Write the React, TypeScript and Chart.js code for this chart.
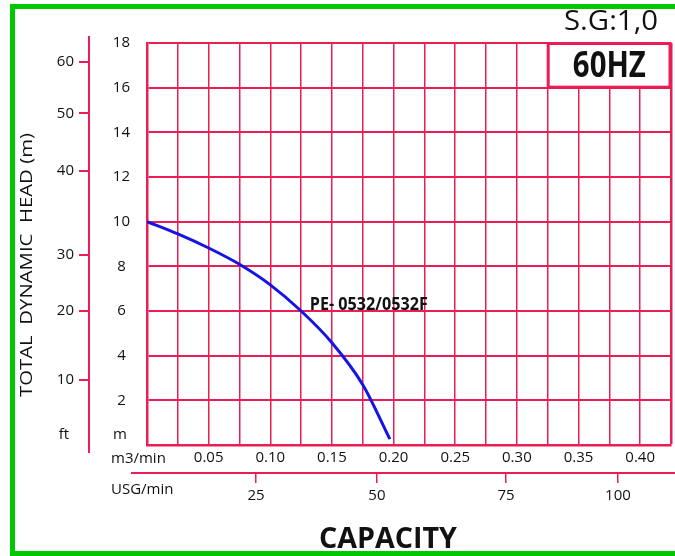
import React, { useEffect, useRef } from 'react';
import { Chart, registerables } from 'chart.js';

Chart.register(...registerables);

// ---- data ----
const flowM3 = [0, 0.025, 0.05, 0.075, 0.1, 0.125, 0.15, 0.175, 0.197];
const headM = [10, 9.45, 8.82, 8.09, 7.17, 6.0, 4.58, 2.7, 0.26];
const seriesName = 'PE- 0532/0532F';

const m3TickLabels = ['0.05', '0.10', '0.15', '0.20', '0.25', '0.30', '0.35', '0.40'];
const usgTickLabels = ['25', '50', '75', '100'];
const usgTickAtM3 = [0.0884, 0.1865, 0.2912, 0.382];
const ftTickLabels = ['10', '20', '30', '40', '50', '60'];
const ftTickAtM = [2.91, 6.01, 8.51, 12.28, 14.85, 17.16];

const headMin = 0;
const headMax = 18;
const headStep = 2;
const flowMin = 0;
const flowMax = 0.425;
const flowStep = 0.025;

const hzBoxFlow = [0.325, 0.425];
const hzBoxHead = [16, 18];
const seriesLabelAt = { flow: 0.132, head: 6.27 };

const RED = '#ea1d55';
const GREEN = '#00c800';
const TEXT = '#111111';
const FONT = '"Open Sans", "Noto Sans", sans-serif';

function fitText(
  ctx: CanvasRenderingContext2D,
  text: string,
  x: number,
  y: number,
  font: string,
  targetW: number,
  align: 'left' | 'center',
  rotate = 0
) {
  ctx.save();
  ctx.font = font;
  const w = ctx.measureText(text).width;
  const s = targetW / w;
  ctx.translate(x, y);
  if (rotate) ctx.rotate(rotate);
  ctx.scale(s, 1);
  ctx.textAlign = align;
  ctx.textBaseline = 'middle';
  ctx.fillStyle = TEXT;
  ctx.fillText(text, 0, 0);
  ctx.restore();
}

const overlay = {
  id: 'overlay',
  afterDraw(chart: any) {
    const { ctx, chartArea: ca, scales } = chart;
    const xs = scales.x;
    const ys = scales.y;
    const yft = scales.yft;
    const xu = scales.xusg;
    ctx.save();

    // green frame (left, top, bottom)
    ctx.strokeStyle = GREEN;
    ctx.lineWidth = 5;
    ctx.beginPath();
    ctx.moveTo(chart.width, 6.5);
    ctx.lineTo(12.5, 6.5);
    ctx.lineTo(12.5, 553.5);
    ctx.lineTo(chart.width, 553.5);
    ctx.stroke();

    // ft axis line
    ctx.strokeStyle = RED;
    ctx.lineWidth = 2;
    ctx.beginPath();
    ctx.moveTo(yft.right - 1, ca.top - 7);
    ctx.lineTo(yft.right - 1, ca.bottom + 8);
    ctx.stroke();

    // USG axis line
    ctx.beginPath();
    ctx.moveTo(ca.left - 16, xu.top + 1);
    ctx.lineTo(chart.width, xu.top + 1);
    ctx.stroke();

    // 60HZ box
    const bx1 = xs.getPixelForValue(hzBoxFlow[0]);
    const bx2 = xs.getPixelForValue(hzBoxFlow[1]);
    const by1 = ys.getPixelForValue(hzBoxHead[1]);
    const by2 = ys.getPixelForValue(hzBoxHead[0]);
    ctx.fillStyle = '#ffffff';
    ctx.fillRect(bx1, by1, bx2 - bx1, by2 - by1);
    ctx.strokeStyle = RED;
    ctx.lineWidth = 3;
    ctx.strokeRect(bx1 + 0.5, by1 + 0.5, bx2 - bx1 - 1.5, by2 - by1 - 1);
    fitText(ctx, '60HZ', (bx1 + bx2) / 2, (by1 + by2) / 2 + 1, `bold 36px ${FONT}`, 73, 'center');

    // S.G
    fitText(ctx, 'S.G:1,0', 611, 22, `27px ${FONT}`, 94, 'center');

    // series label
    fitText(
      ctx,
      seriesName,
      xs.getPixelForValue(seriesLabelAt.flow),
      ys.getPixelForValue(seriesLabelAt.head),
      `bold 18px ${FONT}`,
      118,
      'left'
    );

    // axis unit labels
    ctx.font = `15px ${FONT}`;
    ctx.fillStyle = TEXT;
    ctx.textBaseline = 'middle';
    ctx.textAlign = 'left';
    ctx.fillText('m3/min', 111, xs.top + 14);
    ctx.fillText('USG/min', 111, xu.top + 18);
    ctx.textAlign = 'center';
    ctx.fillText('m', 120, ca.bottom - 10);
    ctx.fillText('ft', 64, ca.bottom - 10);

    // titles
    fitText(ctx, 'TOTAL  DYNAMIC  HEAD (m)', 27, 265, `17px ${FONT}`, 264, 'center', -Math.PI / 2);
    fitText(ctx, 'CAPACITY', 388, 540, `bold 28px ${FONT}`, 138, 'center');

    ctx.restore();
  },
};

export default function App() {
  const ref = useRef<HTMLCanvasElement | null>(null);

  useEffect(() => {
    if (!ref.current) return;
    const points = flowM3.map((f, i) => ({ x: f, y: headM[i] }));
    const chart = new Chart(ref.current, {
      type: 'line',
      data: {
        datasets: [
          {
            label: seriesName,
            data: points,
            borderColor: '#1414e6',
            borderWidth: 3,
            pointRadius: 0,
            cubicInterpolationMode: 'monotone',
            fill: false,
          },
        ],
      },
      options: {
        animation: false,
        responsive: true,
        maintainAspectRatio: false,
        layout: { padding: { left: 0, top: 43, right: 4, bottom: 44 } },
        plugins: { legend: { display: false }, tooltip: { enabled: false } },
        scales: {
          x: {
            type: 'linear',
            position: 'bottom',
            min: flowMin,
            max: flowMax,
            ticks: {
              stepSize: flowStep,
              autoSkip: false,
              maxRotation: 0,
              padding: 4,
              color: TEXT,
              font: { family: FONT, size: 15 },
              callback: (_v: any, i: number) =>
                i > 0 && i % 2 === 0 ? m3TickLabels[i / 2 - 1] ?? '' : '',
            },
            grid: {
              color: RED,
              lineWidth: (c: any) => (c.index === 17 ? 2.5 : 1.5),
              drawTicks: false,
            },
            border: { display: true, color: RED, width: 2.5 },
            afterFit: (s: any) => {
              s.height = 27;
            },
          },
          xusg: {
            type: 'linear',
            position: 'bottom',
            weight: 1,
            min: flowMin,
            max: flowMax,
            afterBuildTicks: (s: any) => {
              s.ticks = usgTickAtM3.map((v) => ({ value: v }));
            },
            ticks: {
              autoSkip: false,
              maxRotation: 0,
              padding: 4,
              color: TEXT,
              font: { family: FONT, size: 15 },
              callback: (_v: any, i: number) => usgTickLabels[i] ?? '',
            },
            grid: {
              drawOnChartArea: false,
              drawTicks: true,
              tickLength: 11,
              color: RED,
              lineWidth: 1.5,
            },
            border: { display: false },
            afterFit: (s: any) => {
              s.height = 40;
            },
          },
          y: {
            type: 'linear',
            position: 'left',
            min: headMin,
            max: headMax,
            ticks: {
              stepSize: headStep,
              autoSkip: false,
              crossAlign: 'center',
              padding: 17,
              color: TEXT,
              font: { family: FONT, size: 15 },
              callback: (v: any, i: number) => (i === 0 ? '' : String(v)),
            },
            grid: { color: RED, lineWidth: 2, drawTicks: false },
            border: { display: true, color: RED, width: 2.5 },
            afterFit: (s: any) => {
              s.width = 57;
            },
          },
          yft: {
            type: 'linear',
            position: 'left',
            weight: 1,
            min: headMin,
            max: headMax,
            afterBuildTicks: (s: any) => {
              s.ticks = ftTickAtM.map((v) => ({ value: v }));
            },
            ticks: {
              autoSkip: false,
              padding: 5,
              color: TEXT,
              font: { family: FONT, size: 15 },
              callback: (_v: any, i: number) => ftTickLabels[i] ?? '',
            },
            grid: {
              drawOnChartArea: false,
              drawTicks: true,
              tickLength: 11,
              color: RED,
              lineWidth: 2,
            },
            border: { display: false },
            afterFit: (s: any) => {
              s.width = 90;
            },
          },
        },
      },
      plugins: [overlay],
    } as any);
    return () => chart.destroy();
  }, []);

  return (
    <div style={{ position: 'absolute', left: 0, top: 0, width: 675, height: 556, background: '#fff' }}>
      <canvas ref={ref} />
    </div>
  );
}
